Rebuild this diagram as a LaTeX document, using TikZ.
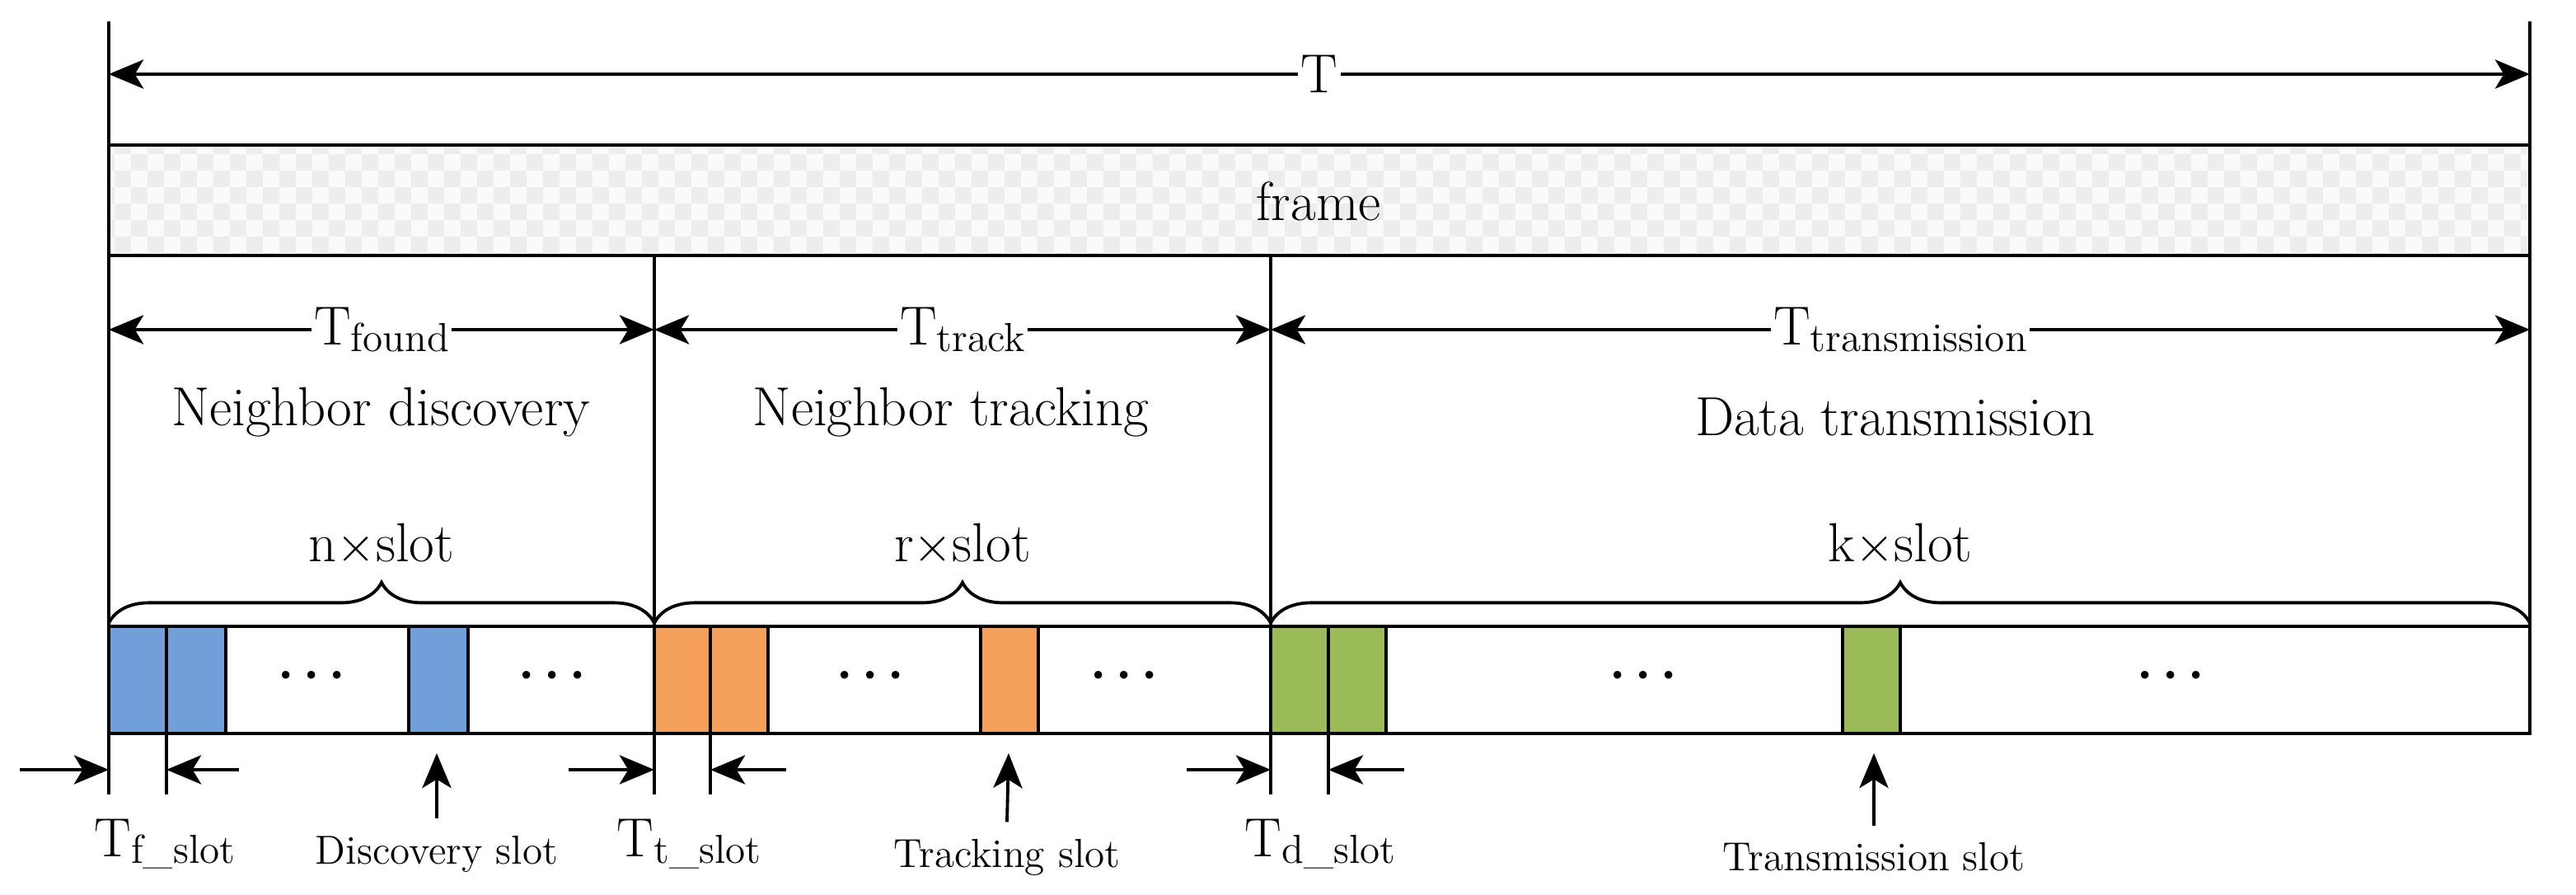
\documentclass[tikz,border=0pt]{standalone}
\usepackage{amsmath,amssymb}
\usepackage{tikz}
\usetikzlibrary{arrows.meta, positioning, calc, patterns, decorations.pathreplacing}
\definecolor{slotblue}{HTML}{719FD9}
\definecolor{slotorange}{HTML}{F49F5A}
\definecolor{slotgreen}{HTML}{9BBB59}
\tikzstyle{arrow} = [line width=1.1pt,-{Stealth[length=12pt,width=10pt,inset=3pt]}]
\tikzstyle{dbl} = [line width=1.1pt,{Stealth[length=12pt,width=10pt,inset=3pt]}-{Stealth[length=12pt,width=10pt,inset=3pt]}]
\tikzstyle{line} = [line width=1.1pt,-]
\tikzstyle{lbl} = [fill=white, inner sep=1pt, font=\fontsize{19}{22}\selectfont]
\tikzstyle{txt} = [font=\fontsize{19}{22}\selectfont]
\tikzstyle{small} = [font=\fontsize{14}{16}\selectfont]
\tikzstyle{brace} = [line width=1.1pt, decorate, decoration={brace, amplitude=14pt}]
\tikzstyle{blueslot} = [line width=1.1pt, draw=black, fill=slotblue]
\tikzstyle{orangeslot} = [line width=1.1pt, draw=black, fill=slotorange]
\tikzstyle{greenslot} = [line width=1.1pt, draw=black, fill=slotgreen]
\newcommand{\sub}[1]{\raisebox{-0.3ex}{\fontsize{14}{15}\selectfont #1}}
\begin{document}
\begin{tikzpicture}[x=0.02cm, y=-0.02cm]
        \useasboundingbox (0,0) rectangle (1563,543);

        % Frame and borders
        \fill [gray!4] (66,88) rectangle (1535,155);
        \fill [pattern=checkerboard, pattern color=gray!14] (66,88) rectangle (1535,155);
        \draw [line] (66,88) rectangle (1535,155);
        \node (frame) [txt] at (800,122) {frame};
        \draw [line] (66,13) -- (66,482);
        \draw [line] (1535,13) -- (1535,380);
        \draw [line] (397,155) -- (397,482);
        \draw [line] (771,155) -- (771,482);

        % Durations
        \draw [dbl] (66,45) -- node[lbl] (T) {T} (1535,45);
        \draw [dbl] (66,200) -- node[lbl] (tfound) {T\sub{found}} (397,200);
        \draw [dbl] (397,200) -- node[lbl] (ttrack) {T\sub{track}} (771,200);
        \draw [dbl] (771,200) -- node[lbl] (ttrans) {T\sub{transmission}} (1535,200);

        \node (disc) [txt] at (231,250) {Neighbor discovery};
        \node (track) [txt] at (577,250) {Neighbor tracking};
        \node (data) [txt] at (1150,253) {Data transmission};

        % Braces
        \draw [brace] (66,378) -- node[txt, above=16pt] (nslot) {n$\times$slot} (397,378);
        \draw [brace] (397,378) -- node[txt, above=16pt] (rslot) {r$\times$slot} (771,378);
        \draw [brace] (771,378) -- node[txt, above=16pt] (kslot) {k$\times$slot} (1535,378);

        % Slots
        \draw [line] (66,380) rectangle (1535,445);
        \draw [blueslot] (66,380) rectangle (101,445);
        \draw [blueslot] (101,380) rectangle (137,445);
        \draw [blueslot] (248,380) rectangle (284,445);
        \draw [orangeslot] (397,380) rectangle (431,445);
        \draw [orangeslot] (431,380) rectangle (466,445);
        \draw [orangeslot] (595,380) rectangle (630,445);
        \draw [greenslot] (771,380) rectangle (806,445);
        \draw [greenslot] (806,380) rectangle (841,445);
        \draw [greenslot] (1118,380) rectangle (1153,445);
        \foreach \x in {192,338,531,685,1000,1320}
            \node [txt] at (\x,410) {$\boldsymbol{\cdots}$};

        % Slot widths
        \draw [line] (101,445) -- (101,482);
        \draw [line] (431,445) -- (431,482);
        \draw [line] (806,445) -- (806,482);
        \draw [arrow] (12,467) -- (66,467);
        \draw [arrow] (145,467) -- (101,467);
        \draw [arrow] (345,467) -- (397,467);
        \draw [arrow] (477,467) -- (431,467);
        \draw [arrow] (720,467) -- (771,467);
        \draw [arrow] (852,467) -- (806,467);
        \node (tf) [txt] at (100,512) {T\sub{f\_slot}};
        \node (tt) [txt] at (418,512) {T\sub{t\_slot}};
        \node (td) [txt] at (801,512) {T\sub{d\_slot}};

        % Slot pointers
        \node (dslot) [small] at (265,518) {Discovery slot};
        \node (tslot) [small] at (611,520) {Tracking slot};
        \node (xslot) [small] at (1137,520) {Transmission slot};
        \draw [arrow] (dslot.north) ++(0,-4) -- (265,457);
        \draw [arrow] (tslot.north) ++(0,-4) -- (612,457);
        \draw [arrow] (xslot.north) ++(0,-4) -- (1137,457);

    \end{tikzpicture}
\end{document}
